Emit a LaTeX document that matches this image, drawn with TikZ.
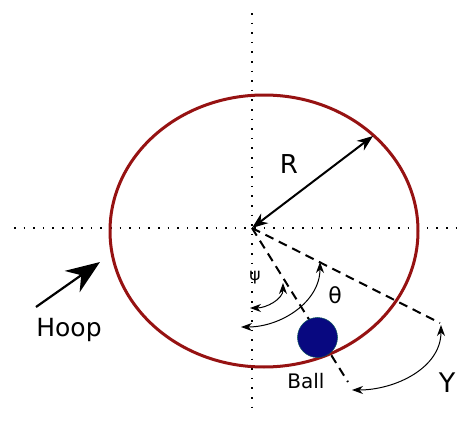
\documentclass[tikz,border=0pt]{standalone}
\usepackage{fontspec}
\setmainfont{DejaVu Sans}
\usetikzlibrary{arrows.meta}
\definecolor{hoopred}{RGB}{150,18,18}
\definecolor{ballblue}{RGB}{8,8,128}
\begin{document}
\begin{tikzpicture}[x=1pt,y=1pt,
    dotline/.style={line width=1.6pt,dash pattern=on 1.6pt off 8pt},
    dashline/.style={line width=2pt,dash pattern=on 9pt off 6pt},
    anglearrow/.style={{Stealth[length=11pt,width=8pt]}-{Stealth[length=11pt,width=8pt]},line width=1pt},
    lbl/.style={inner sep=0pt,anchor=base}]
    \useasboundingbox (0,0) rectangle (459,-423);
    \coordinate (O) at (252,-228);
    % axes
    \draw[dotline] (252,-13) -- (252,-413);
    \draw[dotline] (14,-228) -- (457,-228);
    % dashed directions
    \coordinate (d1) at (348,-382);
    \coordinate (d2) at (440,-323);
    \draw[dashline] (O) -- (d1);
    \draw[dashline] (O) -- (d2);
    % hoop and ball
    \draw[hoopred,line width=3pt] (264,-231) ellipse [x radius=154,y radius=136];
    \node[circle,fill=ballblue,draw=ballblue!70!green,line width=0.5pt,minimum size=40pt,inner sep=0pt] (ball) at (317.5,-337.5) {};
    % radius
    \coordinate (rim) at (373,-136);
    \draw[{Stealth[length=16pt,width=12pt]}-{Stealth[length=16pt,width=12pt]},line width=2pt] (O) -- (rim);
    \node[lbl,font=\fontsize{26}{26}\selectfont] (rlab) at (289,-173) {R};
    % hoop pointer
    \node[lbl,font=\fontsize{25}{25}\selectfont] (hoop) at (69,-336) {Hoop};
    \coordinate (hooptip) at (100,-262);
    \draw[-{Stealth[length=34pt,width=26pt]},line width=2.2pt] (36,-307) -- (hooptip);
    % angles
    \coordinate (psiA) at (283,-283);
    \coordinate (psiB) at (250,-308);
    \draw[anglearrow] (psiA) to[out=-90,in=0] (psiB);
    \node[lbl,font=\fontsize{17}{17}\selectfont] (psi) at (255,-280) {ψ};
    \coordinate (thA) at (320,-262);
    \coordinate (thB) at (241,-327);
    \draw[anglearrow] (thA) to[out=-90,in=0] (thB);
    \node[lbl,font=\fontsize{22}{22}\selectfont] (theta) at (335,-303) {θ};
    \coordinate (gaA) at (441,-325);
    \coordinate (gaB) at (352,-390);
    \draw[anglearrow] (gaA) to[out=-90,in=0] (gaB);
    \node[lbl,font=\fontsize{27}{27}\selectfont] (gam) at (447,-392) {Y};
    \node[lbl,font=\fontsize{20}{20}\selectfont] (balllab) at (306,-388) {Ball};
\end{tikzpicture}
\end{document}
